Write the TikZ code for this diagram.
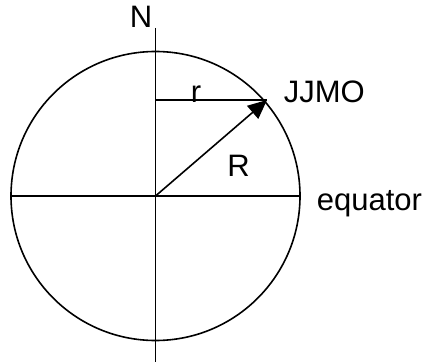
\documentclass[tikz,border=0pt]{standalone}
\usepackage{fontspec}
\setmainfont{Liberation Sans}
\usepackage{tikz}
\usetikzlibrary{arrows.meta}

\tikzset{
  lbl/.style={inner sep=0pt, font=\fontsize{31}{33}\selectfont},
  radius arrow/.style={-{Triangle[length=19pt, width=17pt]}},
}

\begin{document}
\begin{tikzpicture}[x=1pt, y=1pt, line width=1.6pt]
  \useasboundingbox (0,0) rectangle (427,362);
  \coordinate (O) at (155.5,166);    % centre of the earth
  \coordinate (W) at (11,166);
  \coordinate (E) at (300,166);
  \coordinate (Ntop) at (155.5,334);
  \coordinate (Sbot) at (155.5,0);
  \coordinate (Ax) at (155.5,262);   % foot of r on the axis
  \coordinate (P) at (267,262);      % the observatory

  \draw (O) circle (144.5);

  % axis and equator
  \draw (Ntop) -- (Sbot);
  \draw (W) -- (E);

  \draw (Ax) -- (P);
  \draw[radius arrow] (O) -- (P);

  \node[lbl, anchor=base] (north) at (141,334) {N};
  \node[lbl, anchor=base] (rlab) at (196,259) {r};
  \node[lbl, anchor=base west] (obs) at (283,260) {JJMO};
  \node[lbl, anchor=base] (Rlab) at (238.5,186) {R};
  \node[lbl, anchor=base west] (eq) at (316,152) {equator};
\end{tikzpicture}
\end{document}
